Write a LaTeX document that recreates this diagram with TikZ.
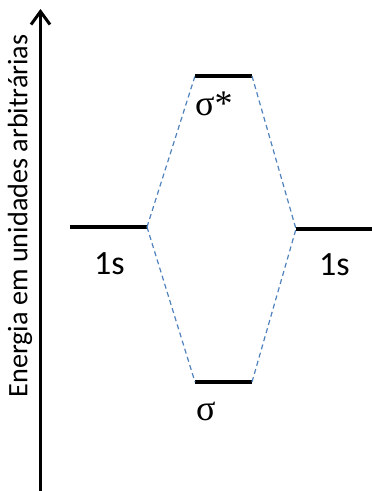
\documentclass[tikz,border=0pt]{standalone}
\usepackage{fontspec}
\setmainfont{Carlito}
\newfontfamily\greekfont{Liberation Serif}
\usetikzlibrary{arrows.meta}
\definecolor{dashblue}{RGB}{79,129,189}

\begin{document}
\begin{tikzpicture}[x=1pt,y=-1pt,level/.style={line width=4pt},link/.style={dashblue,line width=1.2pt,dash pattern=on 5pt off 3.5pt},axis/.style={-{Straight Barb[length=13pt,width=19pt,line width=3pt]},line width=3.2pt},lbl/.style={font=\fontsize{34}{34}\selectfont,inner sep=0pt,anchor=base west},glbl/.style={font=\fontsize{36}{36}\selectfont\greekfont,inner sep=0pt,anchor=base west}]
\useasboundingbox (0,0) rectangle (372,491);
\coordinate (base) at (40.5,491); \coordinate (top) at (40.5,9);
\draw[axis] (base)--(top);
\node[rotate=90,font=\fontsize{28.2}{28.2}\selectfont,inner sep=0pt] (energy) at (20,216) {Energia em unidades arbitrárias};
\coordinate (a1) at (70,227); \coordinate (a2) at (147,227);
\coordinate (b1) at (296,229); \coordinate (b2) at (372,229);
\coordinate (s1) at (195,76); \coordinate (s2) at (252,76);
\coordinate (t1) at (195,382); \coordinate (t2) at (252,382);
\draw[level] (a1)--(a2); \draw[level] (b1)--(b2);
\draw[level] (s1)--(s2); \draw[level] (t1)--(t2);
\draw[link] (a2)--(s1); \draw[link] (a2)--(t1);
\draw[link] (s2)--(b1); \draw[link] (t2)--(b1);
\node[lbl] (ls) at (94,274) {1s}; \node[lbl] (rs) at (319,275) {1s};
\node[glbl] (star) at (195,115) {σ*}; \node[glbl] (sig) at (196,420) {σ};
\end{tikzpicture}
\end{document}
